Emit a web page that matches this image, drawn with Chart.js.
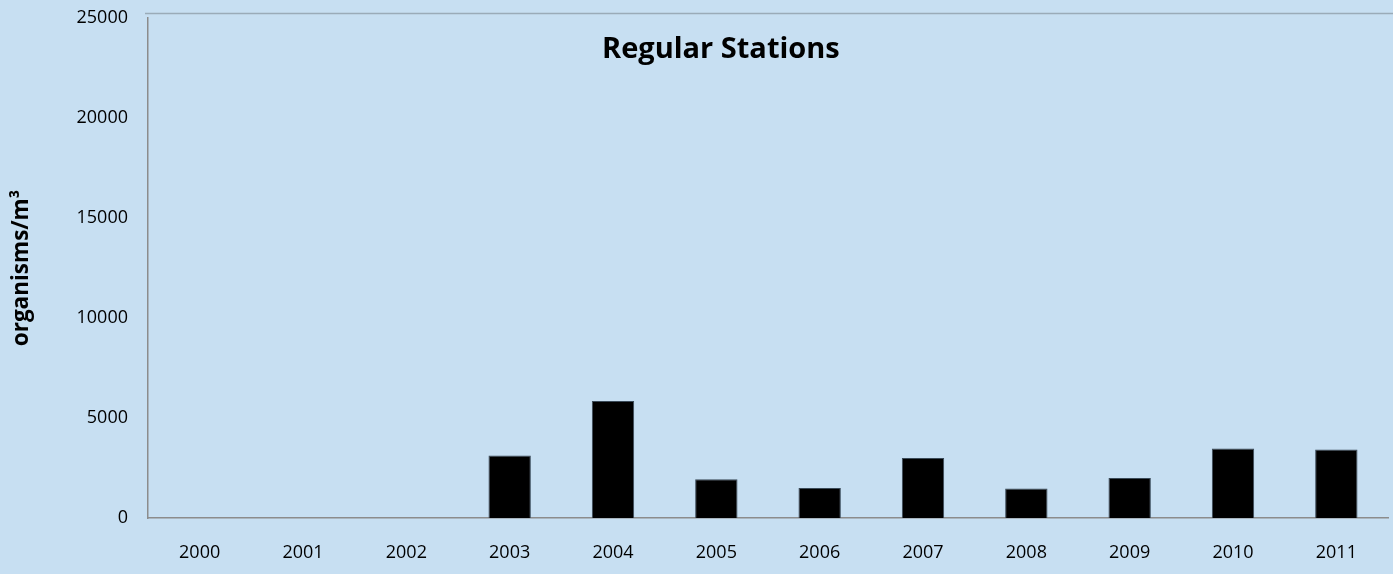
<!DOCTYPE html>
<html>
<head>
<meta charset="utf-8">
<script src="https://cdn.jsdelivr.net/npm/chart.js@4"></script>
<style>
  html, body { margin: 0; padding: 0; background: #c7dff2; }
  #wrap { width: 1393px; height: 574px; }
</style>
</head>
<body>
<div id="wrap"><canvas id="chart"></canvas></div>
<script>
const years = ["2000", "2001", "2002", "2003", "2004", "2005", "2006", "2007", "2008", "2009", "2010", "2011"];
const organisms = [0, 0, 0, 3120, 5850, 1940, 1500, 3000, 1470, 2000, 3470, 3420];
const yTicks = [0, 5000, 10000, 15000, 20000, 25000];
const chartTitle = "Regular Stations";
const yTitle = "organisms/m\u00b3";

const FONT = "'Open Sans', Lato, sans-serif";

// title sits inside the plot, plus the top frame line
const overlay = {
  id: "overlay",
  afterDraw(chart) {
    const { ctx, chartArea: a } = chart;
    ctx.save();
    ctx.strokeStyle = "#9aabb8";
    ctx.lineWidth = 1.5;
    ctx.beginPath();
    ctx.moveTo(a.left - 3, a.top - 4.5);
    ctx.lineTo(chart.width, a.top - 4.5);
    ctx.stroke();
    ctx.fillStyle = "#000";
    ctx.font = "bold 29px " + FONT;
    ctx.textAlign = "center";
    ctx.textBaseline = "middle";
    ctx.fillText(chartTitle, a.left + (a.right - a.left) * 0.462, a.top + 32);
    ctx.restore();
  }
};

new Chart(document.getElementById("chart"), {
  type: "bar",
  data: {
    labels: years,
    datasets: [{
      data: organisms,
      backgroundColor: "#000",
      borderColor: "#3a4a58",
      borderWidth: 1,
      barPercentage: 0.41,
      categoryPercentage: 1
    }]
  },
  options: {
    responsive: true,
    maintainAspectRatio: false,
    animation: false,
    layout: { padding: { top: 18, right: 5, left: 0, bottom: 0 } },
    plugins: { legend: { display: false }, tooltip: { enabled: false } },
    scales: {
      x: {
        grid: { display: false, drawTicks: false },
        border: { color: "#8c8c8c", width: 1.5 },
        ticks: { color: "#000", font: { family: FONT, size: 18 }, padding: 24, maxRotation: 0 },
        afterFit(s) { s.height = 56; }
      },
      y: {
        min: 0,
        max: 25000,
        afterBuildTicks(s) { s.ticks = yTicks.map(v => ({ value: v })); },
        grid: { display: false, drawTicks: false },
        border: { color: "#8c8c8c", width: 1.5 },
        ticks: { color: "#000", font: { family: FONT, size: 18 }, padding: 20, callback: v => String(v) },
        title: { display: true, text: yTitle, color: "#000", font: { family: FONT, size: 22.5, weight: "bold" }, padding: { top: 8, bottom: 0 } },
        afterFit(s) { s.width = 148; s.paddingTop = 0; s.paddingBottom = 0; }
      }
    }
  },
  plugins: [overlay]
});
</script>
</body>
</html>
